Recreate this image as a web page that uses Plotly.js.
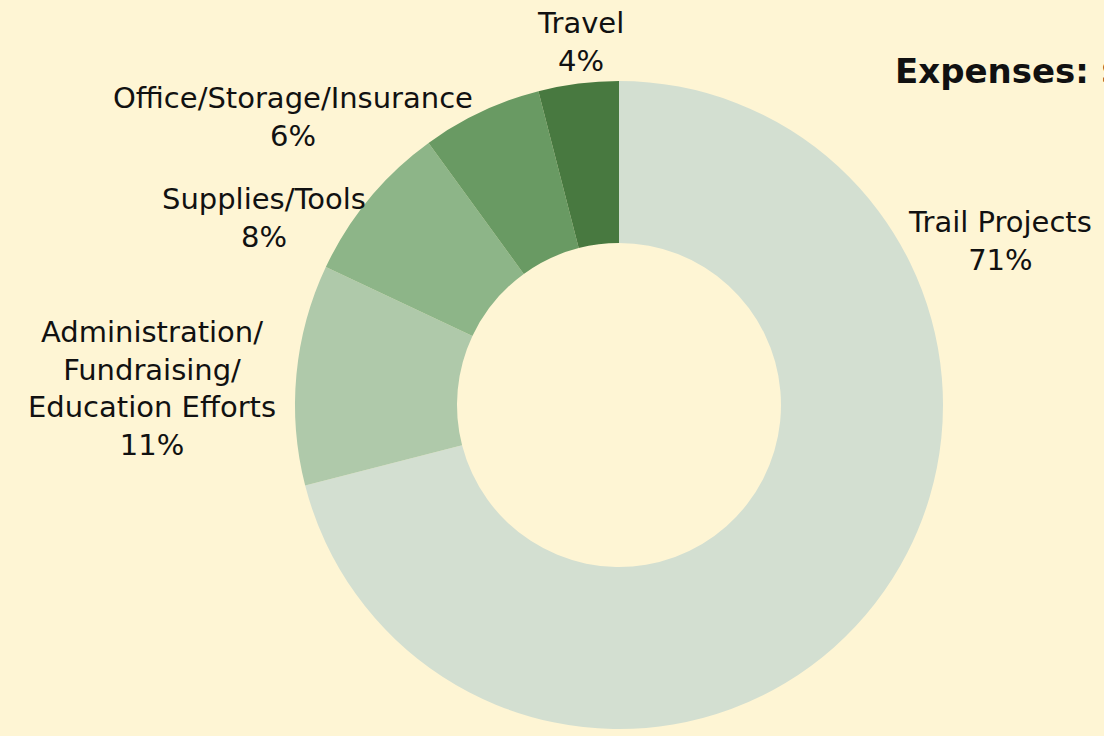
<!DOCTYPE html>
<html>
<head>
<meta charset="utf-8">
<script src="https://cdn.plot.ly/plotly-3.0.1.min.js"></script>
<style>html,body{margin:0;padding:0;background:#fef5d4;}</style>
</head>
<body>
<div id="chart" style="width:1104px;height:736px;"></div>
<script>
// Data
const categories = ["Trail Projects", "Administration/<br>Fundraising/<br>Education Efforts", "Supplies/Tools", "Office/Storage/Insurance", "Travel"];
const percents = [71, 11, 8, 6, 4];
const colors = ["#d3dfd1", "#afc9aa", "#8db588", "#699a63", "#487940"];
const titleText = "<b>Expenses: $</b>";

// Label anchor positions (paper coords)
const labelPos = [
  [0.9058, 0.6726],
  [0.1377, 0.4715],
  [0.2391, 0.7038],
  [0.2654, 0.8410],
  [0.5254, 0.9430]
];

const font = "DejaVu Sans, sans-serif";

const annotations = categories.map((c, i) => ({
  text: c + "<br>" + percents[i] + "%",
  xref: "paper", yref: "paper",
  x: labelPos[i][0], y: labelPos[i][1],
  xanchor: "center", yanchor: "middle",
  align: "center",
  showarrow: false,
  font: {family: font, size: 29, color: "#111111"}
}));

annotations.push({
  text: titleText,
  xref: "paper", yref: "paper",
  x: 893/1104, y: 1 - 71/736,
  xanchor: "left", yanchor: "middle",
  showarrow: false,
  font: {family: font, size: 34, color: "#111111"}
});

const trace = {
  type: "pie",
  labels: categories,
  values: percents,
  hole: 0.5,
  sort: false,
  direction: "clockwise",
  rotation: 0,
  textinfo: "none",
  hoverinfo: "label+percent",
  marker: {colors: colors, line: {width: 0}},
  domain: {x: [(619-324)/1104, (619+324)/1104], y: [(736-405-324)/736, (736-405+324)/736]},
  showlegend: false
};

const layout = {
  width: 1104, height: 736,
  margin: {l: 0, r: 0, t: 0, b: 0},
  paper_bgcolor: "#fef5d4",
  plot_bgcolor: "#fef5d4",
  showlegend: false,
  annotations: annotations,
  font: {family: font}
};

Plotly.newPlot("chart", [trace], layout, {displayModeBar: false, staticPlot: true});
</script>
</body>
</html>
